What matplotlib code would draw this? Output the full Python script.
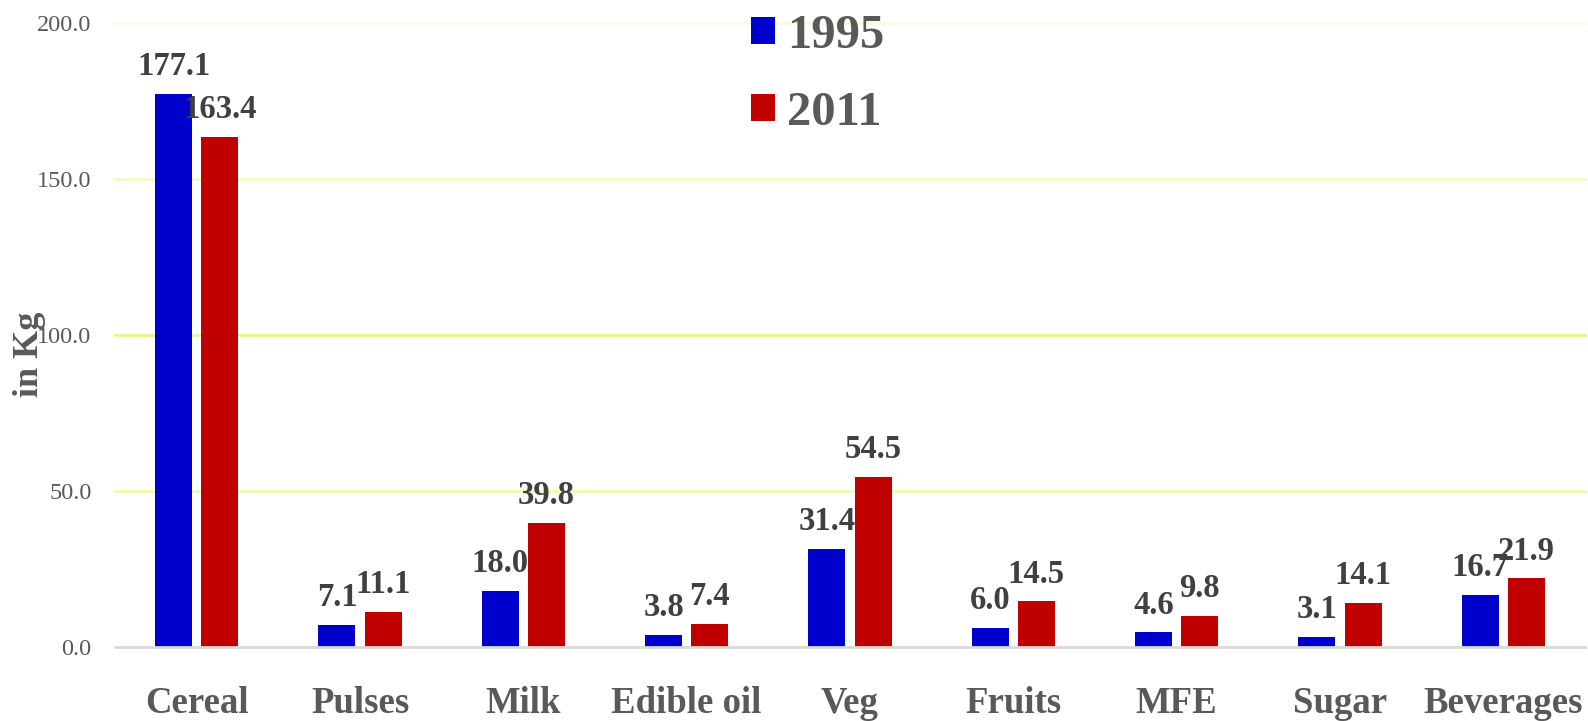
import matplotlib
matplotlib.use("Agg")
import matplotlib.pyplot as plt
import numpy as np

categories = ["Cereal", "Pulses", "Milk", "Edible oil", "Veg", "Fruits", "MFE", "Sugar", "Beverages"]
values_1995 = [177.1, 7.1, 18.0, 3.8, 31.4, 6.0, 4.6, 3.1, 16.7]
values_2011 = [163.4, 11.1, 39.8, 7.4, 54.5, 14.5, 9.8, 14.1, 21.9]
series_labels = ["1995", "2011"]
yticks = [0, 50, 100, 150, 200]

plt.rcParams['font.family'] = ['Liberation Serif', 'DejaVu Serif']
TXT = '#595959'
LBL = '#404040'

fig = plt.figure(figsize=(15.88, 7.21), dpi=100)
ax = fig.add_axes([115/1588, 74.3/721, 1470/1588, (646.7-22.7)/721])

x = np.arange(len(categories))
bw = 37/163
gap = 9/163
off = bw/2 + gap/2
b1 = ax.bar(x - off, values_1995, width=bw, color='#0000CC', label=series_labels[0], zorder=3)
b2 = ax.bar(x + off, values_2011, width=bw, color='#C00000', label=series_labels[1], zorder=3)

for bars, vals in ((b1, values_1995), (b2, values_2011)):
    for rect, v in zip(bars, vals):
        ax.annotate(f"{v:.1f}", (rect.get_x() + rect.get_width()/2, v),
                    xytext=(0, 13.5), textcoords='offset points',
                    ha='center', va='baseline', fontsize=23.5, fontweight='bold',
                    color=LBL, zorder=5, annotation_clip=False)

ax.set_xlim(-0.5, len(categories) - 0.5)
ax.set_ylim(0, 200)
ax.set_yticks(yticks)
ax.set_yticklabels([f"{t:.1f}" for t in yticks], fontsize=17.5, color=TXT)
ax.set_xticks(x)
ax.set_xticklabels(categories, fontsize=26.5, fontweight='bold', color=TXT)
ax.tick_params(axis='y', length=0, pad=17)
ax.tick_params(axis='x', length=0, pad=28.5)

grid_colors = {50: '#ebfcb0', 100: '#dcf98a', 150: '#eefcc4', 200: '#f8fbe2'}
for yv, c in grid_colors.items():
    ax.axhline(yv, color=c, lw=2, zorder=1, clip_on=False)

for s in ['top', 'right', 'left']:
    ax.spines[s].set_visible(False)
ax.spines['bottom'].set_color('#d9d9d9')
ax.spines['bottom'].set_linewidth(2)
ax.spines['bottom'].set_zorder(4)

fig.text(29/1588, 1 - 354/721, "in Kg", rotation=90, ha='center', va='center',
         fontsize=26, fontweight='bold', color=TXT)

leg = ax.legend(handles=[b1, b2], loc='upper left',
                bbox_to_anchor=(751/1588, 1 - 14/721), bbox_transform=fig.transFigure,
                frameon=False, prop={'size': 35, 'weight': 'bold'},
                handlelength=0.49, handleheight=0.49, handletextpad=0.25,
                labelspacing=0.68, borderpad=0, borderaxespad=0)
for t in leg.get_texts():
    t.set_color(TXT)

fig.savefig("out.png", dpi=100)
